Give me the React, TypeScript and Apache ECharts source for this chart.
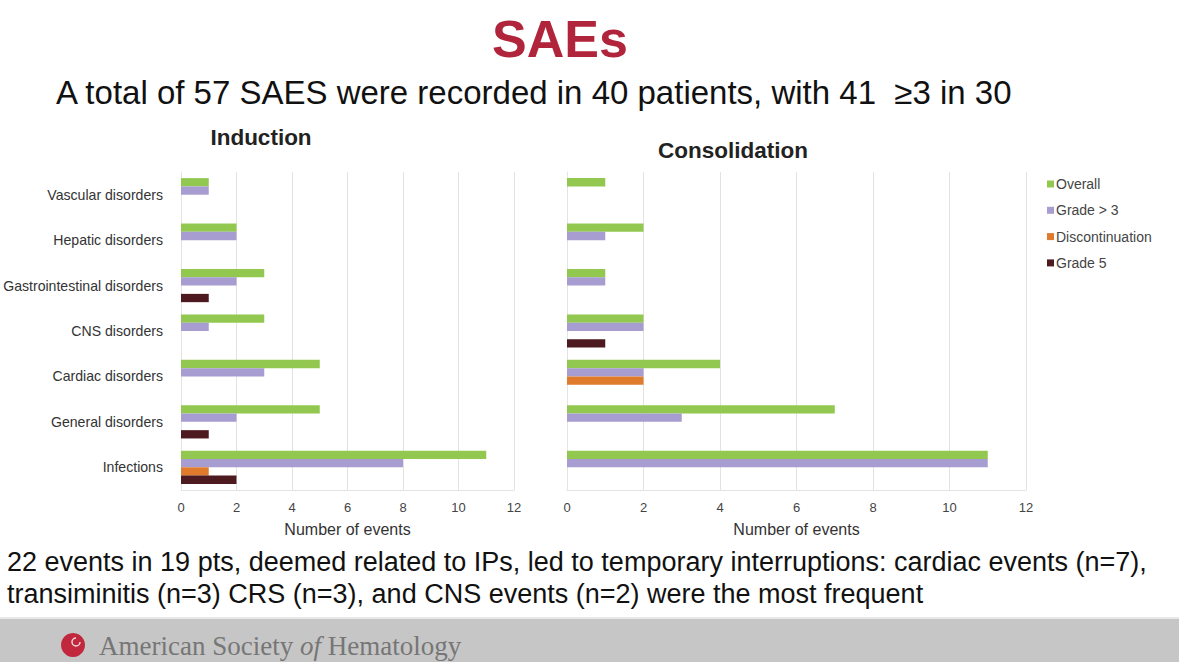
import React, { useEffect, useRef } from "react";
import * as echarts from "echarts";

const categories = [
  "Vascular disorders",
  "Hepatic disorders",
  "Gastrointestinal disorders",
  "CNS disorders",
  "Cardiac disorders",
  "General disorders",
  "Infections",
];
const seriesNames = ["Overall", "Grade > 3", "Discontinuation", "Grade 5"];
const seriesColors = ["#92c84f", "#a89dd0", "#e07a2c", "#4d1a1f"];

const inductionOverall = [1, 2, 3, 3, 5, 5, 11];
const inductionGrade3 = [1, 2, 2, 1, 3, 2, 8];
const inductionDiscontinuation = [0, 0, 0, 0, 0, 0, 1];
const inductionGrade5 = [0, 0, 1, 0, 0, 1, 2];

const consolidationOverall = [1, 2, 1, 2, 4, 7, 11];
const consolidationGrade3 = [0, 1, 1, 2, 2, 3, 11];
const consolidationDiscontinuation = [0, 0, 0, 0, 2, 0, 0];
const consolidationGrade5 = [0, 0, 0, 1, 0, 0, 0];

const xTicks = [0, 2, 4, 6, 8, 10, 12];

const titleText = "SAEs";
const subtitleText = "A total of 57 SAES were recorded in 40 patients, with 41  \u22653 in 30";
const note1 = "22 events in 19 pts, deemed related to IPs, led to temporary interruptions: cardiac events (n=7),";
const note2 = "transiminitis (n=3) CRS (n=3), and CNS events (n=2) were the most frequent";

export default function App() {
  const ref = useRef<HTMLDivElement>(null);
  useEffect(() => {
    if (!ref.current) return;
    const chart = echarts.init(ref.current, null, { renderer: "svg" });
    const font = "Liberation Sans, Arial, sans-serif";
    const induction = [inductionOverall, inductionGrade3, inductionDiscontinuation, inductionGrade5];
    const consolidation = [consolidationOverall, consolidationGrade3, consolidationDiscontinuation, consolidationGrade5];
    const mkSeries = (data: number[][], idx: number) =>
      data.map((d, i) => ({
        type: "bar",
        name: seriesNames[i],
        xAxisIndex: idx,
        yAxisIndex: idx,
        data: d,
        barWidth: 8.3,
        barGap: "0%",
        itemStyle: { color: seriesColors[i] },
      }));
    const xAxisCommon = {
      type: "value",
      min: xTicks[0],
      max: xTicks[xTicks.length - 1],
      interval: 2,
      name: "Number of events",
      nameLocation: "middle",
      nameGap: 31,
      nameTextStyle: { fontFamily: font, fontSize: 16, color: "#333" },
      axisLabel: { fontFamily: font, fontSize: 13, color: "#444", margin: 11 },
      axisLine: { show: true, lineStyle: { color: "#e4e4e4" } },
      axisTick: { show: false },
      splitLine: { show: true, lineStyle: { color: "#e2e2e2" } },
    };
    chart.setOption({
      animation: false,
      backgroundColor: "#ffffff",
      legend: {
        data: seriesNames,
        orient: "vertical",
        left: 1042,
        top: 172,
        itemWidth: 7,
        itemHeight: 7,
        itemGap: 12.3,
        icon: "rect",
        textStyle: { fontFamily: font, fontSize: 14, lineHeight: 14, color: "#444", padding: [0, 0, 0, -3] },
      },
      grid: [
        { left: 181, top: 172, width: 333, height: 318, outerBoundsMode: "none", containLabel: false },
        { left: 567, top: 172, width: 459, height: 318, outerBoundsMode: "none", containLabel: false },
      ],
      xAxis: [
        { ...xAxisCommon, gridIndex: 0 },
        { ...xAxisCommon, gridIndex: 1 },
      ],
      yAxis: [
        {
          type: "category",
          gridIndex: 0,
          data: categories,
          inverse: true,
          axisLine: { show: true, lineStyle: { color: "#e4e4e4" } },
          axisTick: { show: false },
          axisLabel: { fontFamily: font, fontSize: 14.1, color: "#333", margin: 18 },
        },
        {
          type: "category",
          gridIndex: 1,
          data: categories,
          inverse: true,
          axisLine: { show: true, lineStyle: { color: "#e4e4e4" } },
          axisTick: { show: false },
          axisLabel: { show: false },
        },
      ],
      series: [...mkSeries(induction, 0), ...mkSeries(consolidation, 1)],
      graphic: [
        {
          type: "text",
          x: 560,
          y: 39,
          style: { text: titleText, fontFamily: font, fontSize: 52, fontWeight: "bold", fill: "#b0253b", align: "center", verticalAlign: "middle" },
        },
        {
          type: "text",
          x: 56,
          y: 92,
          style: { text: subtitleText, fontFamily: font, fontSize: 33, fill: "#111", verticalAlign: "middle" },
        },
        {
          type: "text",
          x: 261,
          y: 137,
          style: { text: "Induction", fontFamily: font, fontSize: 22.5, fontWeight: "bold", fill: "#222", align: "center", verticalAlign: "middle" },
        },
        {
          type: "text",
          x: 733,
          y: 150,
          style: { text: "Consolidation", fontFamily: font, fontSize: 22.5, fontWeight: "bold", fill: "#222", align: "center", verticalAlign: "middle" },
        },
        {
          type: "text",
          x: 7,
          y: 562,
          style: { text: note1, fontFamily: font, fontSize: 27, fill: "#111", verticalAlign: "middle" },
        },
        {
          type: "text",
          x: 7,
          y: 594,
          style: { text: note2, fontFamily: font, fontSize: 27, fill: "#111", verticalAlign: "middle" },
        },
        {
          type: "rect",
          shape: { x: 0, y: 617, width: 1179, height: 45 },
          style: { fill: "#c6c6c6" },
        },
        {
          type: "rect",
          shape: { x: 0, y: 617, width: 1179, height: 2 },
          style: { fill: "#e8e8e8" },
        },
        {
          type: "circle",
          shape: { cx: 73, cy: 645, r: 12 },
          style: { fill: "#c1283d" },
        },
        {
          type: "arc",
          shape: { cx: 76, cy: 642, r: 4, startAngle: 0, endAngle: Math.PI * 1.5 },
          style: { stroke: "#f3d6da", lineWidth: 1.5, fill: "none" },
        },
        {
          type: "text",
          x: 99,
          y: 646,
          style: {
            text: "{a|American Society }{b|of}{a| Hematology}",
            verticalAlign: "middle",
            fill: "#767676",
            rich: {
              a: { fontFamily: "Liberation Serif, serif", fontSize: 27, fill: "#767676" },
              b: { fontFamily: "Liberation Serif, serif", fontSize: 27, fontStyle: "italic", fill: "#767676" },
            },
          },
        },
      ],
    });
    return () => chart.dispose();
  }, []);
  return (
    <div
      ref={ref}
      style={{ position: "fixed", left: 0, top: 0, width: 1179, height: 662 }}
    />
  );
}
